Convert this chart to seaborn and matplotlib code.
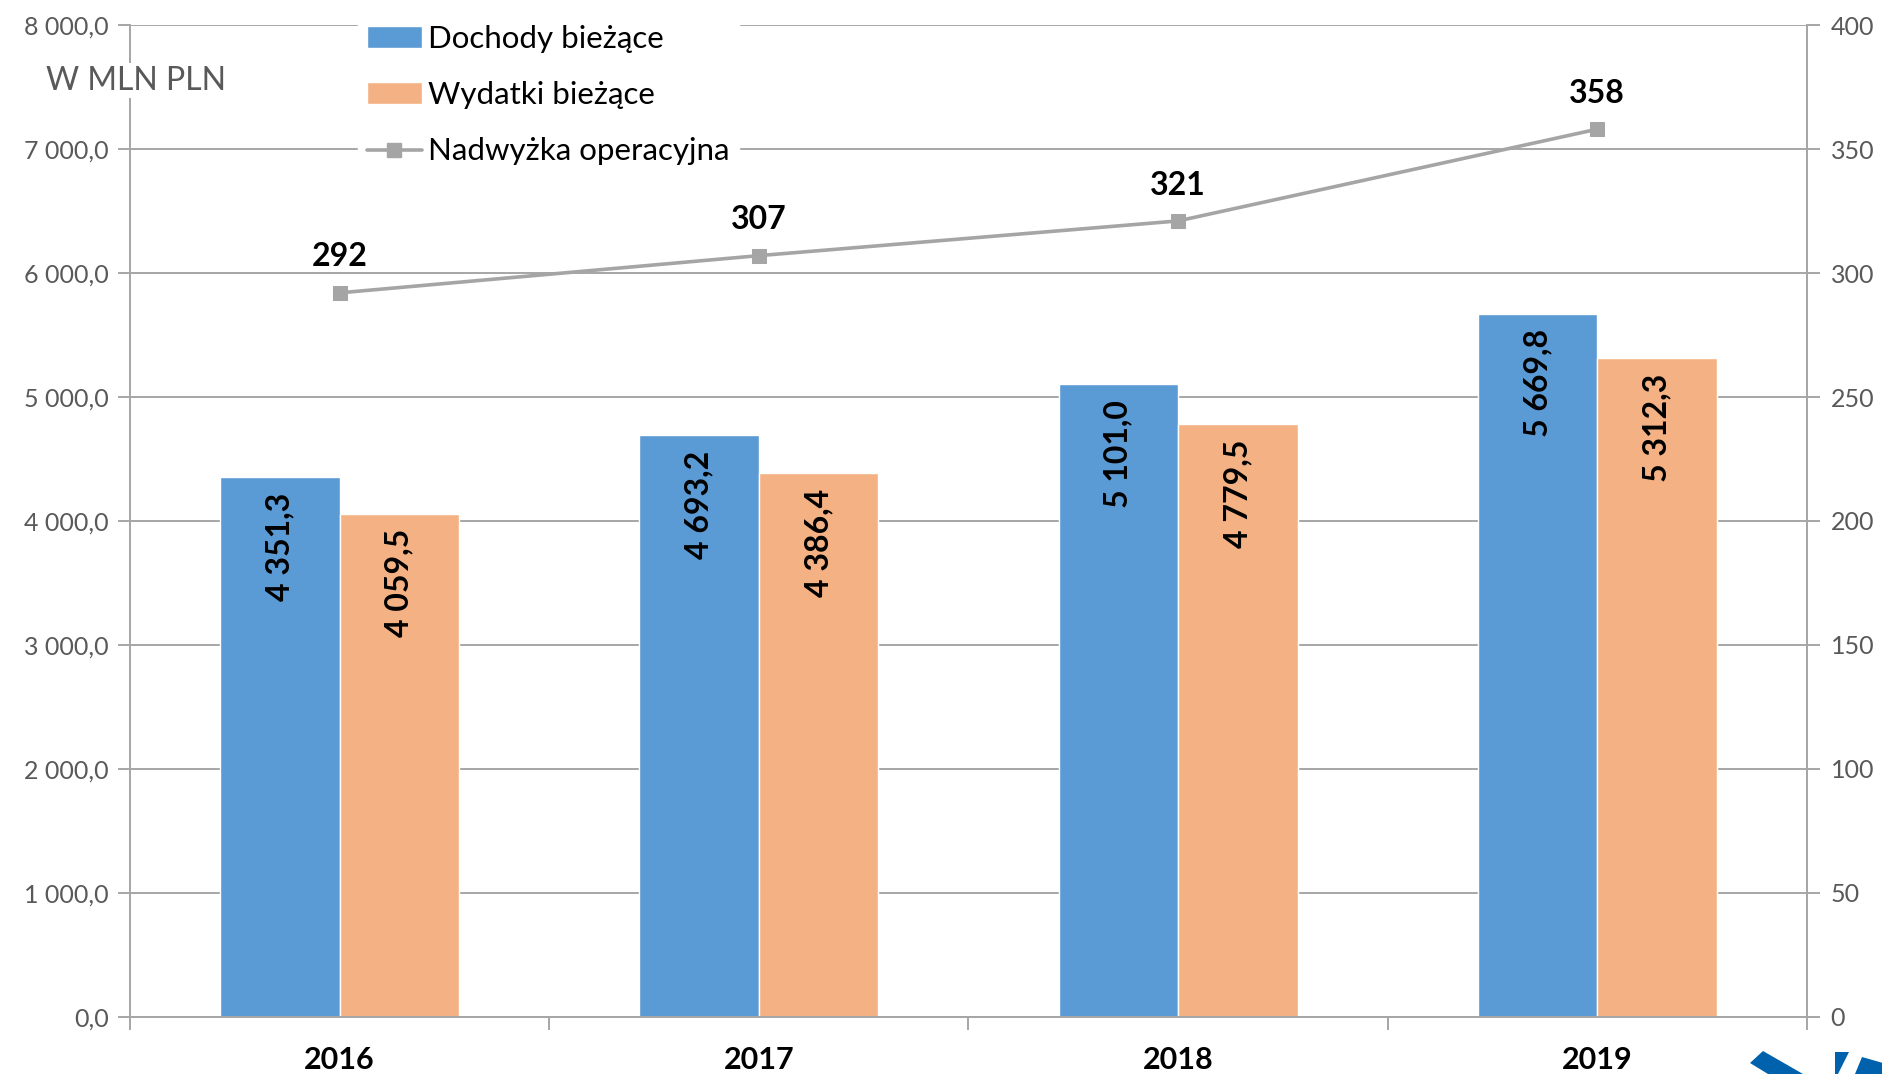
import numpy as np
import pandas as pd
import matplotlib.pyplot as plt
import seaborn as sns
from matplotlib.patches import Patch, Polygon
from matplotlib.lines import Line2D
from matplotlib.ticker import FuncFormatter, MultipleLocator, FixedLocator

# ----------------------------- data ----------------------------- #
years = ["2016", "2017", "2018", "2019"]
dochody = [4351.3, 4693.2, 5101.0, 5669.8]
wydatki = [4059.5, 4386.4, 4779.5, 5312.3]
nadwyzka = [292, 307, 321, 358]
series_names = ["Dochody bieżące", "Wydatki bieżące", "Nadwyżka operacyjna"]

BLUE = "#5B9BD5"
ORANGE = "#F4B183"
GREY_LINE = "#A5A5A5"
AXIS_GREY = "#A6A6A6"
TEXT_GREY = "#595959"


def pl_fmt(v, pos=None):
    return f"{v:,.1f}".replace(",", " ").replace(".", ",")


sns.set_theme(style="white")
plt.rcParams["font.family"] = ["Lato", "DejaVu Sans"]

df = pd.DataFrame({
    "Rok": years * 2,
    "Wartosc": dochody + wydatki,
    "Seria": [series_names[0]] * len(years) + [series_names[1]] * len(years),
})

fig = plt.figure(figsize=(18.83, 10.74), dpi=100)
ax = fig.add_axes([0.069, 0.0531, 0.8906, 0.9236])

sns.barplot(data=df, x="Rok", y="Wartosc", hue="Seria", palette=[BLUE, ORANGE],
            width=0.57, gap=0, saturation=1, ax=ax, legend=False, zorder=2)

ax.set_xlim(-0.5, len(years) - 0.5)
ax.set_ylim(0, 8000)
ax.yaxis.set_major_locator(MultipleLocator(1000))
ax.yaxis.set_major_formatter(FuncFormatter(pl_fmt))
ax.grid(axis="y", color=AXIS_GREY, linewidth=1.4, zorder=0)
ax.set_axisbelow(True)
ax.set_xlabel("")
ax.set_ylabel("")

ax.spines["top"].set_visible(False)
for side in ["left", "bottom", "right"]:
    ax.spines[side].set_color(AXIS_GREY)
    ax.spines[side].set_linewidth(1.4)

# category boundary ticks on x axis
ax.xaxis.set_minor_locator(FixedLocator(np.arange(len(years) + 1) - 0.5))
ax.tick_params(axis="x", which="minor", length=9, width=1.4, color=AXIS_GREY, direction="out", bottom=True)
ax.tick_params(axis="x", which="major", length=0, pad=21, labelsize=22, labelcolor="black")
for t in ax.get_xticklabels():
    t.set_fontweight("bold")
ax.tick_params(axis="y", which="major", length=9, width=1.4, color=AXIS_GREY, direction="out",
               left=True, labelsize=18, labelcolor=TEXT_GREY, pad=6)

# values inside bars
for cont, vals in zip(ax.containers, [dochody, wydatki]):
    for bar, v in zip(cont, vals):
        ax.annotate(pl_fmt(v), xy=(bar.get_x() + bar.get_width() / 2, bar.get_height()),
                    xytext=(0, -11), textcoords="offset points", rotation=90,
                    ha="center", va="top", fontsize=23, fontweight="bold", color="black")

# secondary axis with line
ax2 = ax.twinx()
pos = np.arange(len(years))
sns.lineplot(x=pos, y=nadwyzka, ax=ax2, color=GREY_LINE, linewidth=2.6, marker="s",
             markersize=10, markeredgecolor=GREY_LINE, zorder=3)
ax2.set_ylim(0, 400)
ax2.yaxis.set_major_locator(MultipleLocator(50))
ax2.tick_params(axis="y", which="major", length=9, width=1.4, color=AXIS_GREY, direction="out",
                right=True, labelsize=18, labelcolor=TEXT_GREY, pad=8)
for s in ax2.spines.values():
    s.set_visible(False)
ax2.spines["right"].set_visible(True)
ax2.spines["right"].set_color(AXIS_GREY)
ax2.spines["right"].set_linewidth(1.4)
ax2.grid(False)
ax2.set_xlim(-0.5, len(years) - 0.5)

for x, v in zip(pos, nadwyzka):
    ax2.annotate(str(v), xy=(x, v), xytext=(0, 19), textcoords="offset points",
                 ha="center", va="baseline", fontsize=23, fontweight="bold", color="black")

handles = [Patch(facecolor=BLUE), Patch(facecolor=ORANGE),
           Line2D([0], [0], color=GREY_LINE, linewidth=2.6, marker="s", markersize=10)]
leg = ax2.legend(handles, series_names, loc="upper left", bbox_to_anchor=(0.1265, 1.025),
                 fontsize=22.5, frameon=True, framealpha=1, facecolor="white", edgecolor="white",
                 handlelength=1.75, handleheight=0.7, handletextpad=0.2, labelspacing=0.9,
                 borderpad=0.3, fancybox=False, labelcolor="black")
leg.set_zorder(10)

fig.text(0.0245, 0.925, "W MLN PLN", fontsize=23, color=TEXT_GREY, va="center", ha="left",
         bbox=dict(facecolor="white", edgecolor="none", pad=2), zorder=5)

# partial logo in bottom right corner
W, H = 1883, 1074
logo = [
    [(1750, 1063), (1763, 1051), (1803, 1074), (1768, 1074)],
    [(1835, 1052), (1849, 1052), (1838, 1074), (1835, 1074)],
    [(1862, 1057), (1883, 1063), (1883, 1074), (1855, 1074)],
]
for pts in logo:
    fig.patches.append(Polygon([(px / W, 1 - py / H) for px, py in pts], closed=True,
                               transform=fig.transFigure, facecolor="#0062AD", edgecolor="none"))

fig.savefig("out.png", dpi=100)
